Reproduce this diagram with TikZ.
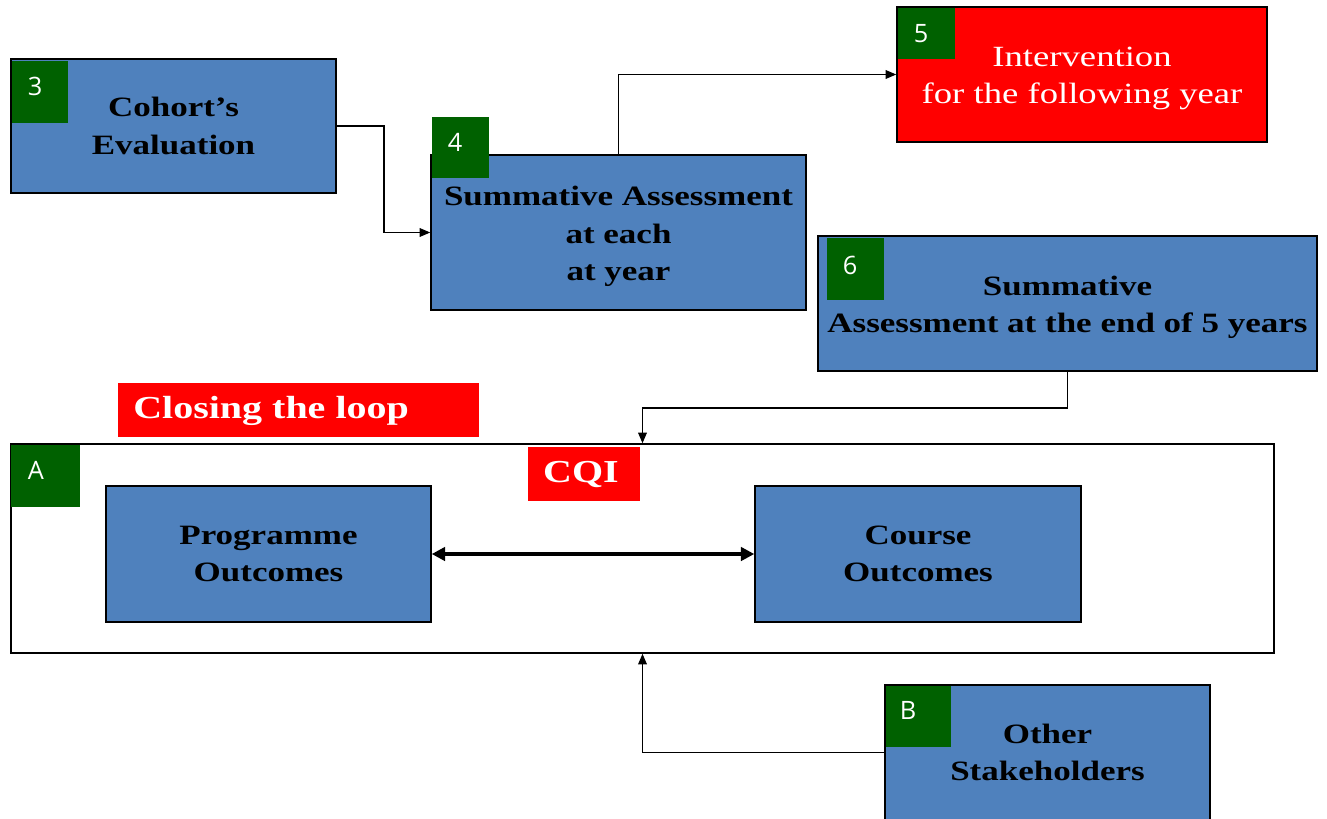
\documentclass[tikz,border=0pt]{standalone}
\usepackage{fontspec}
\setmainfont{Liberation Serif}[FakeStretch=1.25]
\newfontfamily\tagfont{Open Sans}
\usetikzlibrary{arrows.meta}
\definecolor{boxblue}{HTML}{4F81BD}
\definecolor{taggreen}{HTML}{006100}
\definecolor{alertred}{HTML}{FF0000}
\tikzset{
  bluebox/.style={draw=black, line width=1.1pt, fill=boxblue, inner sep=0pt,
    align=center, font=\fontsize{21}{28}\selectfont\bfseries},
  redbox/.style={draw=black, line width=1.1pt, fill=alertred, inner sep=0pt},
  boxtext/.style={inner sep=0pt, align=center, font=\fontsize{21}{28}\selectfont\bfseries},
  redtext/.style={inner sep=0pt, align=center, text=white, font=\fontsize{22}{28}\selectfont},
  framebox/.style={draw=black, line width=1.1pt, fill=white, inner sep=0pt},
  tagbox/.style={fill=taggreen, inner sep=0pt, anchor=north west},
  tagtext/.style={text=white, inner sep=0pt, font=\tagfont\fontsize{19}{19}\selectfont},
  banner/.style={fill=alertred, inner sep=0pt},
  bannertext/.style={text=white, inner sep=0pt, font=\fontsize{24}{24}\selectfont\bfseries},
  link/.style={draw=black, line width=1.1pt, -{Triangle[length=8pt,width=6.5pt]}},
  biglink/.style={draw=black, line width=3pt, {Triangle[length=10pt,width=10pt]}-{Triangle[length=10pt,width=10pt]}}
}
\begin{document}
\begin{tikzpicture}[x=0.75pt, y=-0.75pt]
\useasboundingbox (0,0) rectangle (1327,818);

% outer CQI frame
\node[framebox, minimum width=947.25pt, minimum height=156.75pt] (frame) at (642.5,548.5) {};
\node[tagbox, minimum width=51.75pt, minimum height=46.5pt] (tA) at (11,445) {};
\node[tagtext] (lA) at ([shift={(25,25)}]tA.north west) {A};

% boxes
\node[bluebox, minimum width=243.75pt, minimum height=100.5pt] (coh) at (173.5,126) {Cohort’s\\Evaluation};
\node[bluebox, minimum width=281.25pt, minimum height=116.25pt] (sa4) at (618.5,232.5) {};
\node[boxtext] (sa4txt) at ([yshift=-3pt]sa4.center) {Summative Assessment\\at each\\at year};
\node[redbox, minimum width=277.5pt, minimum height=101.25pt] (int5) at (1082,74.5) {};
\node[redtext] (int5txt) at ([yshift=-3pt]int5.center) {Intervention\\for the following year};
\node[bluebox, minimum width=374.25pt, minimum height=101.25pt] (sa6) at (1067.5,303.5) {};
\node[boxtext] (sa6txt) at ([yshift=-3pt]sa6.center) {Summative\\Assessment at the end of 5 years};
\node[bluebox, minimum width=243.75pt, minimum height=102pt] (po) at (268.5,554) {Programme\\Outcomes};
\node[bluebox, minimum width=244.5pt, minimum height=102pt] (co) at (918,554) {Course\\Outcomes};
\node[bluebox, minimum width=243.75pt, minimum height=101.25pt] (osh) at (1047.5,752.5) {Other\\Stakeholders};

% number tags
\node[tagbox, minimum width=42pt, minimum height=46.5pt] (t3) at (12,61) {};
\node[tagtext] (l3) at ([shift={(23,25)}]t3.north west) {3};
\node[tagbox, minimum width=42.75pt, minimum height=45.75pt] (t4) at (432,117) {};
\node[tagtext] (l4) at ([shift={(23,25)}]t4.north west) {4};
\node[tagbox, minimum width=42.75pt, minimum height=38.25pt] (t5) at (898,8) {};
\node[tagtext] (l5) at ([shift={(23,26)}]t5.north west) {5};
\node[tagbox, minimum width=42.75pt, minimum height=46.5pt] (t6) at (827,238) {};
\node[tagtext] (l6) at ([shift={(23,27)}]t6.north west) {6};
\node[tagbox, minimum width=48.75pt, minimum height=45.75pt] (tB) at (886,686) {};
\node[tagtext] (lB) at ([shift={(22,24)}]tB.north west) {B};

% banners
\node[banner, minimum width=270.75pt, minimum height=40.5pt] (loop) at (298.5,410) {};
\node[bannertext, anchor=west] (looptxt) at (133,411) {Closing the loop};
\node[banner, minimum width=84pt, minimum height=40.5pt] (cqi) at (584,474) {};
\node[bannertext] (cqitxt) at (581,474) {CQI};

% connectors
\draw[link] (coh.east) -- (384,126) |- (sa4.west);
\draw[link] (sa4.north) |- (int5.west);
\draw[link] (sa6.south) -- (1067.5,408) -| (frame.north);
\draw[link] (osh.west) -| (frame.south);
\draw[biglink] (po.east) -- (co.west);
\end{tikzpicture}
\end{document}
